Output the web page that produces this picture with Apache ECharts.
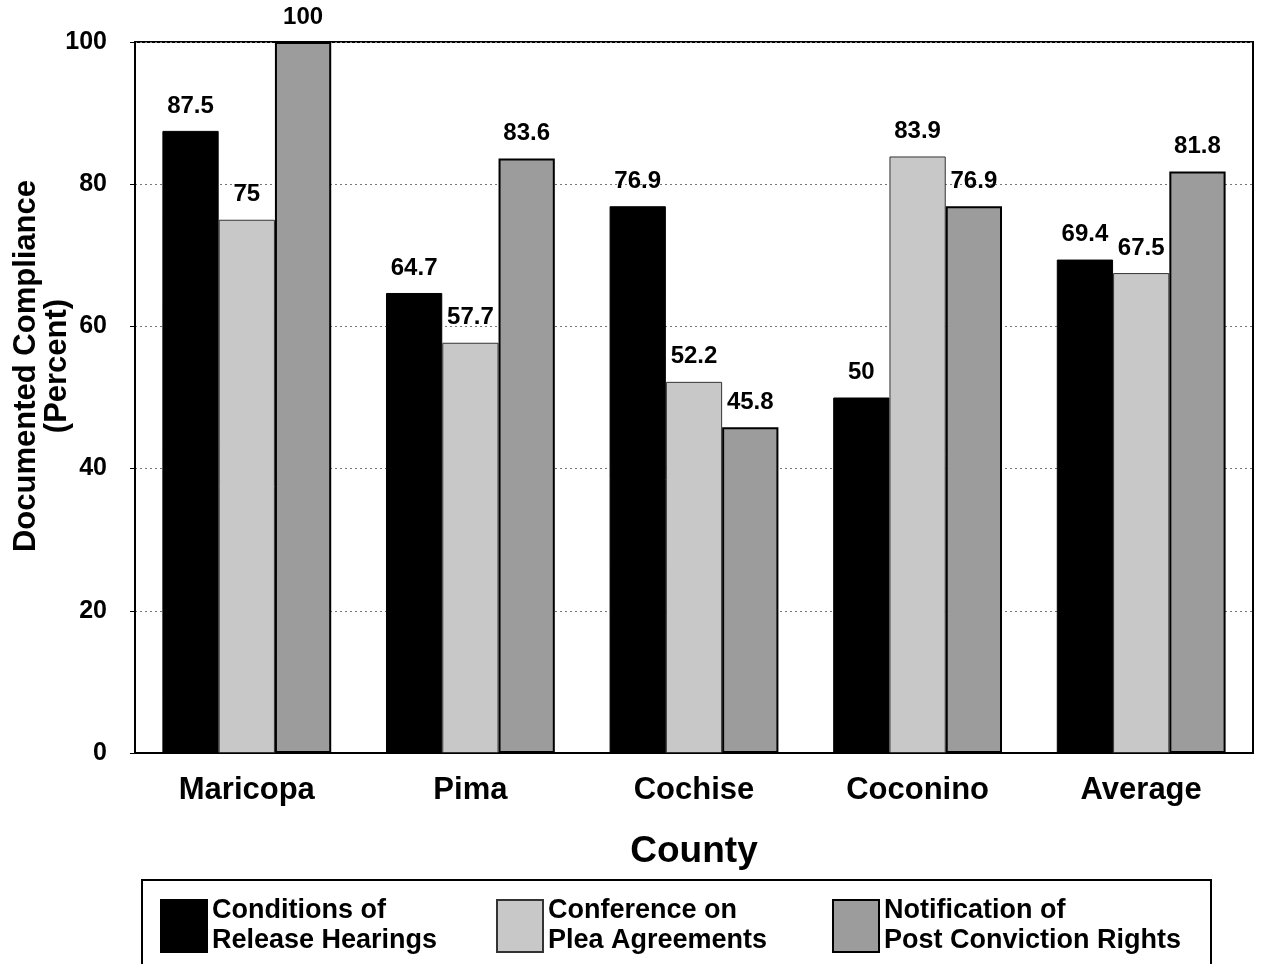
<!DOCTYPE html>
<html>
<head>
<meta charset="utf-8">
<script src="https://cdn.jsdelivr.net/npm/echarts@6/dist/echarts.min.js"></script>
<style>
  html, body { margin: 0; padding: 0; background: #fff; }
  #chart { width: 1271px; height: 964px; }
</style>
</head>
<body>
<div id="chart"></div>
<script>
// 各县数据
var counties = ['Maricopa', 'Pima', 'Cochise', 'Coconino', 'Average'];
var releaseHearings = [87.5, 64.7, 76.9, 50, 69.4];
var pleaAgreements = [75, 57.7, 52.2, 83.9, 67.5];
var postConviction = [100, 83.6, 45.8, 76.9, 81.8];
var seriesNames = ['Conditions of\nRelease Hearings', 'Conference on\nPlea Agreements', 'Notification of\nPost Conviction Rights'];
var yTicks = [0, 20, 40, 60, 80, 100];

var font = "'Liberation Sans', Arial, sans-serif";
var myChart = echarts.init(document.getElementById('chart'));

var barLabel = {
  show: true, position: 'top', distance: 13,
  color: '#000', fontFamily: font, fontWeight: 'bold', fontSize: 24
};

var option = {
  backgroundColor: '#fff',
  animation: false,
  grid: { left: 135, right: 18, top: 42, bottom: 211, show: true, borderColor: '#000', borderWidth: 2 },
  legend: {
    left: 142, top: 880,
    orient: 'horizontal',
    padding: [16, 30, 20, 18],
    itemGap: 0,
    itemWidth: 46, itemHeight: 52,
    borderColor: '#000', borderWidth: 2,
    icon: 'rect',
    textStyle: { fontFamily: font, fontWeight: 'bold', fontSize: 27, lineHeight: 30, color: '#000', width: 284 },
    data: seriesNames
  },
  graphic: [{
    type: 'text', x: 42, y: 366, rotation: Math.PI / 2,
    style: {
      text: 'Documented Compliance\n(Percent)',
      font: 'bold 31px ' + font, lineHeight: 31,
      textAlign: 'center', textVerticalAlign: 'middle', fill: '#000'
    }
  }],
  xAxis: {
    type: 'category', data: counties,
    name: 'County', nameLocation: 'middle', nameGap: 80,
    nameTextStyle: { fontFamily: font, fontWeight: 'bold', fontSize: 37, color: '#000' },
    axisLine: { lineStyle: { color: '#000', width: 2 } },
    axisTick: { show: false },
    axisLabel: { margin: 22, fontFamily: font, fontWeight: 'bold', fontSize: 31, color: '#000' }
  },
  yAxis: {
    type: 'value', min: yTicks[0], max: yTicks[yTicks.length - 1], interval: 20,
    axisLine: { show: true, lineStyle: { color: '#000', width: 2 } },
    axisTick: { show: true, length: 5, lineStyle: { color: '#000' } },
    axisLabel: { margin: 28, fontFamily: font, fontWeight: 'bold', fontSize: 25, color: '#000' },
    splitLine: { lineStyle: { color: '#777', type: [2, 3], width: 1 } }
  },
  series: [
    {
      name: seriesNames[0], type: 'bar', data: releaseHearings,
      barGap: '0%', barCategoryGap: '24.5%',
      itemStyle: { color: '#000', borderColor: '#000', borderWidth: 1 },
      label: barLabel
    },
    {
      name: seriesNames[1], type: 'bar', data: pleaAgreements,
      itemStyle: { color: '#c8c8c8', borderColor: '#333', borderWidth: 1 },
      label: barLabel
    },
    {
      name: seriesNames[2], type: 'bar', data: postConviction,
      itemStyle: { color: '#9c9c9c', borderColor: '#000', borderWidth: 2 },
      label: barLabel
    }
  ]
};

myChart.setOption(option);
window.onresize = myChart.resize;
</script>
</body>
</html>
